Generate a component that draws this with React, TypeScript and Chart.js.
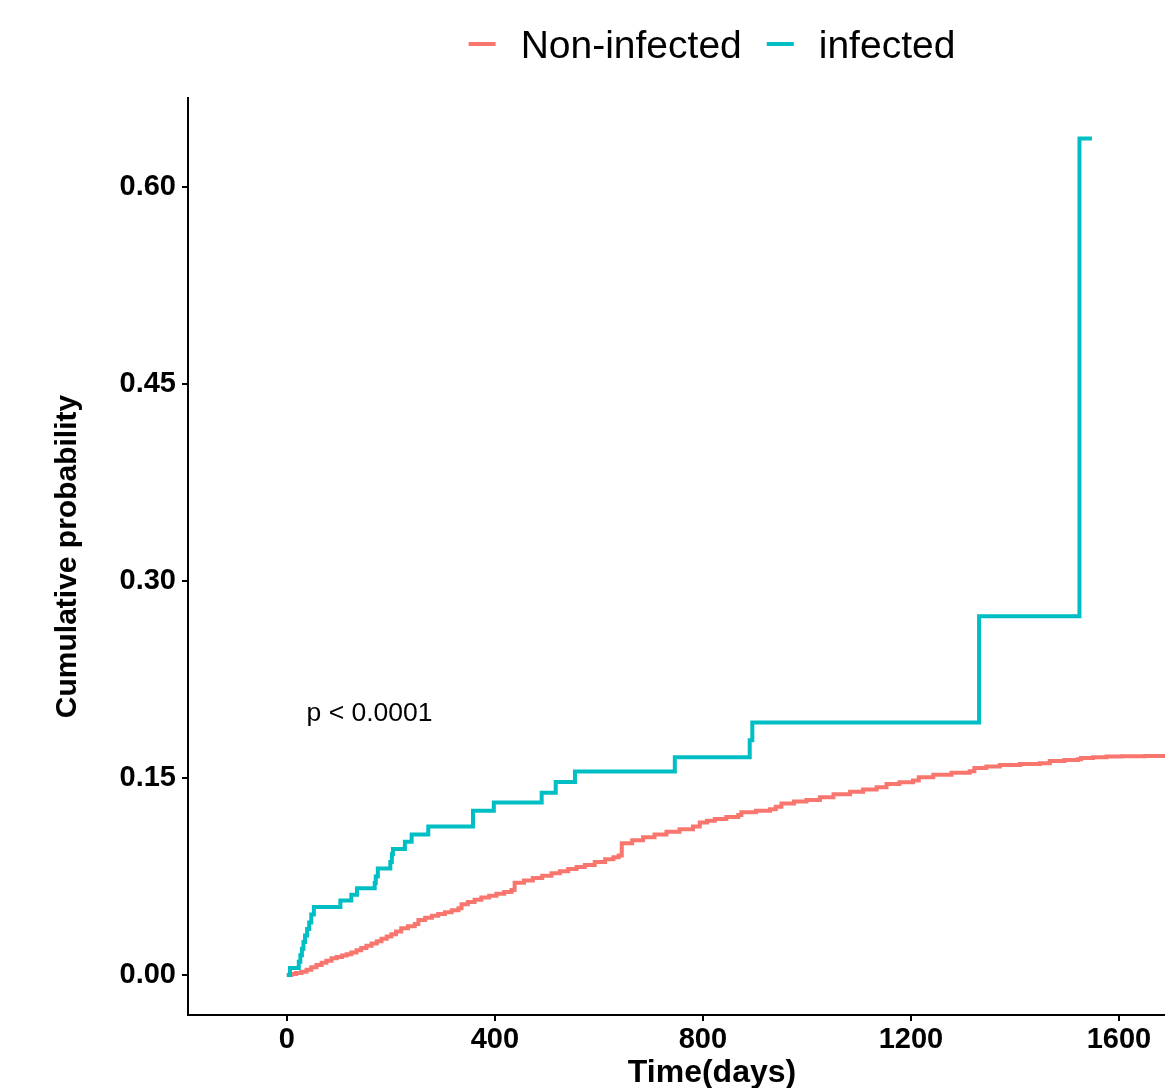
import React, { useEffect, useRef } from "react";
import { Chart, registerables } from "chart.js";

Chart.register(...registerables);

// ---- data ----
const seriesNames = ["Non-infected", "infected"];
const seriesColors = ["#F8766D", "#00BFC4"];

const nonInfectedDays = [
  0, 9, 18, 28, 38, 47, 57, 67, 76, 86, 96, 106, 115, 124, 134, 143, 153, 163, 173, 182, 192, 201, 210, 220, 233, 246,
  253, 266, 279, 291, 304, 317, 330, 336, 348, 361, 374, 389, 403, 418, 432, 438, 456, 473, 491, 509, 525, 541, 557,
  573, 592, 612, 628, 638, 644, 664, 685, 707, 730, 755, 781, 794, 808, 823, 845, 868, 874, 902, 929, 940, 951, 975,
  999, 1025, 1051, 1083, 1108, 1134, 1153, 1178, 1204, 1215, 1243, 1278, 1313, 1322, 1345, 1371, 1410, 1448, 1467,
  1495, 1521, 1527, 1550, 1576, 1605, 1650, 1700,
];
const nonInfectedProb = [
  0, 0.0008, 0.0015, 0.0025, 0.004, 0.0058, 0.0075, 0.0092, 0.0108, 0.0127, 0.0137, 0.0148, 0.0158, 0.017, 0.0188,
  0.0205, 0.0222, 0.024, 0.0257, 0.0275, 0.0292, 0.031, 0.033, 0.0355, 0.037, 0.0388, 0.0419, 0.0435, 0.045, 0.0464,
  0.0478, 0.0492, 0.0507, 0.0538, 0.0555, 0.0572, 0.059, 0.0604, 0.0618, 0.0632, 0.0647, 0.0703, 0.072, 0.0738, 0.0756,
  0.0774, 0.079, 0.0806, 0.0822, 0.0838, 0.086, 0.0881, 0.0897, 0.091, 0.1003, 0.1026, 0.1049, 0.107, 0.1091, 0.111,
  0.113, 0.116, 0.1175, 0.1188, 0.1203, 0.1218, 0.1239, 0.125, 0.1261, 0.128, 0.1305, 0.132, 0.1332, 0.1354, 0.1376,
  0.1396, 0.1412, 0.1429, 0.1455, 0.1468, 0.148, 0.1505, 0.1525, 0.154, 0.1552, 0.1575, 0.1588, 0.1598, 0.1606, 0.1612,
  0.163, 0.1637, 0.1643, 0.1653, 0.1658, 0.1663, 0.1665, 0.1668, 0.167,
];

const infectedDays = [
  0, 6, 23, 26, 29, 32, 35, 39, 43, 47, 52, 103, 124, 135, 169, 171, 175, 199, 202, 204, 227, 240, 272, 358, 398, 490,
  517, 554, 746, 890, 895, 1331, 1524, 1548,
];
const infectedProb = [
  0, 0.0053, 0.01, 0.015, 0.02, 0.025, 0.03, 0.035, 0.04, 0.046, 0.0518, 0.0566, 0.061, 0.066, 0.07, 0.075, 0.081,
  0.086, 0.092, 0.096, 0.1015, 0.107, 0.113, 0.125, 0.1314, 0.1387, 0.147, 0.155, 0.1657, 0.1788, 0.1923, 0.2732, 0.637,
  0.637,
];

const xTicks = [0, 400, 800, 1200, 1600];
const yTicks = [0, 0.15, 0.3, 0.45, 0.6];
const xRange = [-190, 1825];
const yRange = [-0.0305, 0.6678];
const xTitle = "Time(days)";
const yTitle = "Cumulative probability";
const pValueLabel = "p < 0.0001";
const pValuePos = [38, 0.199];

const FONT = "'Liberation Sans', Arial, Helvetica, sans-serif";

const toPoints = (xs: number[], ys: number[]) => xs.map((x, i) => ({ x, y: ys[i] }));

const overlayPlugin = {
  id: "overlay",
  afterDatasetsDraw(chart: any) {
    const ctx = chart.ctx as CanvasRenderingContext2D;
    const xs = chart.scales.x;
    const ys = chart.scales.y;
    ctx.save();
    // p-value annotation
    ctx.font = `26.5px ${FONT}`;
    ctx.fillStyle = "#000";
    ctx.textAlign = "left";
    ctx.textBaseline = "middle";
    ctx.fillText(pValueLabel, xs.getPixelForValue(pValuePos[0]), ys.getPixelForValue(pValuePos[1]));

    // legend
    ctx.font = `39px ${FONT}`;
    ctx.textBaseline = "alphabetic";
    const keyW = 27;
    const keyGap = 25;
    const itemGap = 25;
    const widths = seriesNames.map((n) => ctx.measureText(n).width);
    let total = 0;
    widths.forEach((w, i) => {
      total += keyW + keyGap + w + (i > 0 ? itemGap : 0);
    });
    const cx = (chart.chartArea.left + chart.chartArea.right) / 2;
    let x = cx - total / 2;
    seriesNames.forEach((n, i) => {
      ctx.strokeStyle = seriesColors[i];
      ctx.lineWidth = 4;
      ctx.beginPath();
      ctx.moveTo(x, 44);
      ctx.lineTo(x + keyW, 44);
      ctx.stroke();
      x += keyW + keyGap;
      ctx.fillStyle = "#000";
      ctx.fillText(n, x, 58);
      x += widths[i] + itemGap;
    });
    ctx.restore();
  },
};

export default function App() {
  const ref = useRef<HTMLCanvasElement | null>(null);

  useEffect(() => {
    if (!ref.current) return;
    const tickFont = { family: FONT, size: 29, weight: "bold" as const };
    const chart = new Chart(ref.current, {
      type: "line",
      data: {
        datasets: [
          {
            label: seriesNames[0],
            data: toPoints(nonInfectedDays, nonInfectedProb),
            borderColor: seriesColors[0],
            backgroundColor: seriesColors[0],
            borderWidth: 4,
            pointRadius: 0,
            stepped: "before",
            fill: false,
            order: 1,
          },
          {
            label: seriesNames[1],
            data: toPoints(infectedDays, infectedProb),
            borderColor: seriesColors[1],
            backgroundColor: seriesColors[1],
            borderWidth: 4,
            pointRadius: 0,
            stepped: "before",
            fill: false,
            order: 0,
          },
        ],
      },
      options: {
        animation: false,
        responsive: false,
        devicePixelRatio: 1,
        layout: { padding: { top: 98, right: 14, left: 0, bottom: 0 } },
        plugins: {
          legend: { display: false },
          tooltip: { enabled: false },
        },
        scales: {
          x: {
            type: "linear",
            min: xRange[0],
            max: xRange[1],
            afterBuildTicks: (scale: any) => {
              scale.ticks = xTicks.map((v) => ({ value: v }));
            },
            afterFit: (scale: any) => {
              scale.height = 85;
            },
            grid: {
              display: true,
              drawOnChartArea: false,
              drawTicks: true,
              tickLength: 6,
              tickWidth: 2,
              tickColor: "#000",
              color: "#000",
              lineWidth: 2,
            },
            border: { display: true, color: "#000", width: 2 },
            ticks: {
              color: "#000",
              font: tickFont,
              padding: 2,
              maxRotation: 0,
              autoSkip: false,
              callback: (v: any) => String(v),
            },
            title: {
              display: true,
              text: xTitle,
              color: "#000",
              font: { family: FONT, size: 32, weight: "bold" },
              padding: { top: 0, bottom: 8 },
            },
          },
          y: {
            type: "linear",
            min: yRange[0],
            max: yRange[1],
            afterBuildTicks: (scale: any) => {
              scale.ticks = yTicks.map((v) => ({ value: v }));
            },
            afterFit: (scale: any) => {
              scale.width = 188;
            },
            grid: {
              display: true,
              drawOnChartArea: false,
              drawTicks: true,
              tickLength: 6,
              tickWidth: 2,
              tickColor: "#000",
              color: "#000",
              lineWidth: 2,
            },
            border: { display: true, color: "#000", width: 2 },
            ticks: {
              color: "#000",
              font: tickFont,
              padding: 6,
              autoSkip: false,
              callback: (v: any) => Number(v).toFixed(2),
            },
            title: {
              display: true,
              text: yTitle,
              color: "#000",
              font: { family: FONT, size: 30, weight: "bold" },
              padding: { top: 50, bottom: 0 },
            },
          },
        },
      },
      plugins: [overlayPlugin],
    } as any);
    return () => chart.destroy();
  }, []);

  return (
    <div
      style={{
        position: "fixed",
        left: 0,
        top: 0,
        width: 1165,
        height: 1088,
        overflow: "hidden",
        background: "#fff",
      }}
    >
      <canvas ref={ref} width={1250} height={1100} style={{ display: "block", width: 1250, height: 1100 }} />
    </div>
  );
}
